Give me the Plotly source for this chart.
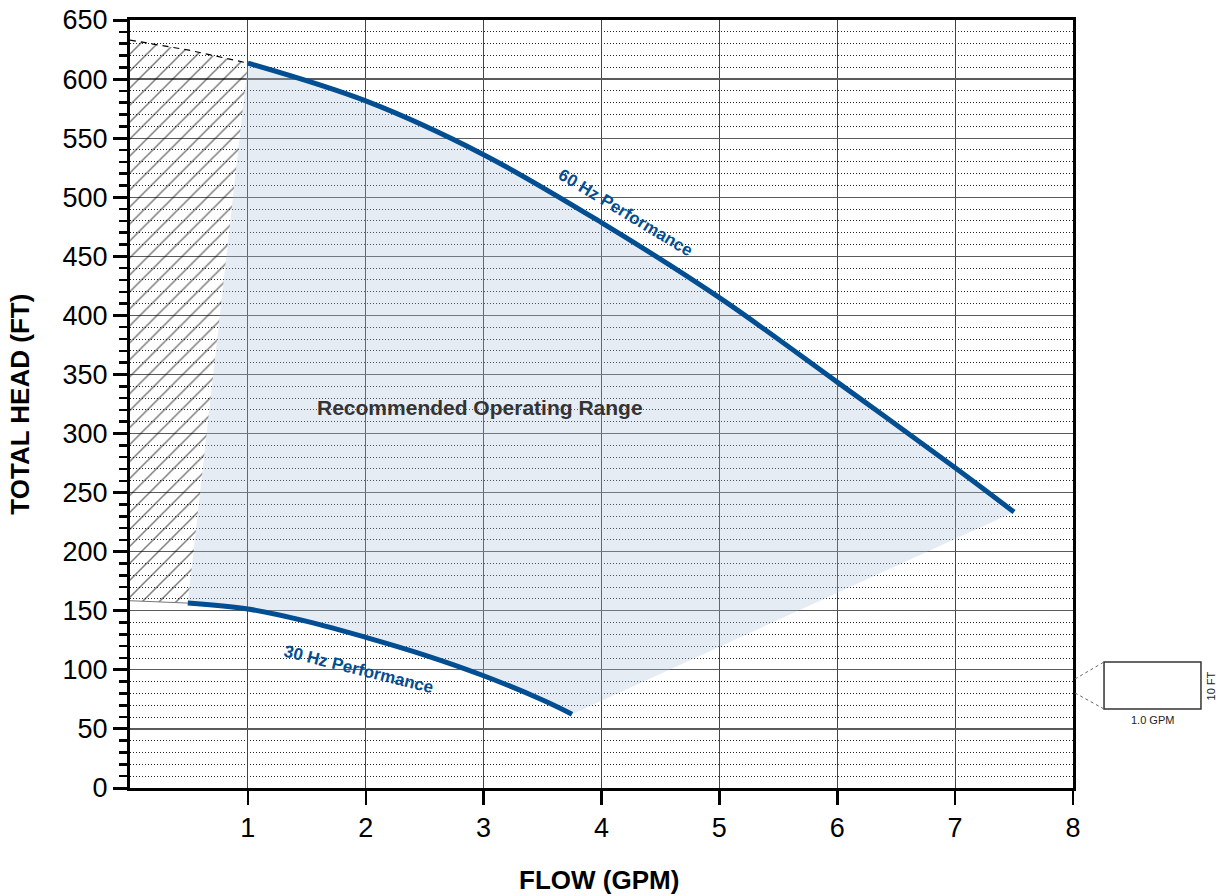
import plotly.graph_objects as go

# ---- data ----
flow_60 = [1, 2, 3, 4, 5, 6, 7, 7.5]
head_60 = [613.5, 581.5, 536, 478.5, 415, 343.5, 271, 233.5]

flow_30 = [0.49, 1, 1.5, 2, 2.5, 3, 3.5, 3.75]
head_30 = [156.5, 151.5, 141, 127.5, 112.5, 95, 74.5, 62.5]

hatch_top_flow = [0, 0.5, 1]
hatch_top_head = [633, 624.5, 613.5]
hatch_bot_flow = [0, 0.49]
hatch_bot_head = [158.5, 156.5]

x_ticks = [1, 2, 3, 4, 5, 6, 7, 8]
y_ticks = list(range(0, 651, 50))

BLUE = "#024e92"
FONT = "Liberation Sans, Arial, Helvetica, sans-serif"

fig = go.Figure()

# recommended operating range (shaded)
fig.add_trace(go.Scatter(
    x=flow_60 + flow_30[::-1],
    y=head_60 + head_30[::-1],
    fill="toself", mode="lines", line=dict(width=0),
    fillcolor="rgba(170,192,220,0.30)", hoverinfo="skip", showlegend=False))

# hatched zone
fig.add_trace(go.Scatter(
    x=hatch_top_flow + hatch_bot_flow[::-1],
    y=hatch_top_head + hatch_bot_head[::-1],
    fill="toself", mode="lines", line=dict(width=0),
    fillcolor="rgba(0,0,0,0)",
    fillpattern=dict(shape="/", fgcolor="black", bgcolor="rgba(0,0,0,0)",
                     size=12, solidity=0.13),
    hoverinfo="skip", showlegend=False))

# hatch boundaries
fig.add_trace(go.Scatter(x=hatch_top_flow, y=hatch_top_head, mode="lines",
                         line=dict(color="black", width=1.2, dash="6px,5px"),
                         hoverinfo="skip", showlegend=False))
fig.add_trace(go.Scatter(x=hatch_bot_flow, y=hatch_bot_head, mode="lines",
                         line=dict(color="#777777", width=1),
                         hoverinfo="skip", showlegend=False))

# performance curves
fig.add_trace(go.Scatter(x=flow_60, y=head_60, mode="lines",
                         line=dict(color=BLUE, width=5, shape="spline"),
                         name="60 Hz Performance", showlegend=False))
fig.add_trace(go.Scatter(x=flow_30, y=head_30, mode="lines",
                         line=dict(color=BLUE, width=5, shape="spline"),
                         name="30 Hz Performance", showlegend=False))

fig.update_xaxes(
    range=[0, 8], tickvals=x_ticks, ticktext=[str(v) for v in x_ticks],
    showgrid=True, gridcolor="#444444", gridwidth=1,
    showline=True, linecolor="black", linewidth=3, mirror=True,
    ticks="outside", ticklen=14, tickwidth=2.5, tickcolor="black",
    tickfont=dict(family=FONT, size=27, color="black"),
    zeroline=False, fixedrange=True, automargin=False,
    ticklabeloverflow="allow")

fig.update_yaxes(
    range=[0, 650], tickvals=y_ticks, ticktext=[str(v) for v in y_ticks],
    showgrid=True, gridcolor="#5a5a5a", gridwidth=1.2,
    showline=True, linecolor="black", linewidth=3, mirror=True,
    ticks="outside", ticklen=14, tickwidth=3, tickcolor="black",
    tickfont=dict(family=FONT, size=27, color="black"),
    minor=dict(dtick=10, tick0=0, showgrid=True, griddash="1px,2px",
               gridcolor="#222222", gridwidth=1,
               ticks="outside", ticklen=8, tickwidth=2.5, tickcolor="black"),
    zeroline=False, fixedrange=True, automargin=False,
    ticklabeloverflow="allow")

annotations = [
    dict(text="<b>60 Hz Performance</b>", x=4.2, y=487, xref="x", yref="y",
         showarrow=False, textangle=31,
         font=dict(family=FONT, size=17, color=BLUE)),
    dict(text="<b>30 Hz Performance</b>", x=1.94, y=100, xref="x", yref="y",
         showarrow=False, textangle=14,
         font=dict(family=FONT, size=17, color=BLUE)),
    dict(text="<b>Recommended Operating Range</b>", x=2.97, y=322, xref="x", yref="y",
         showarrow=False, font=dict(family=FONT, size=21, color="#333333")),
    dict(text="<b>TOTAL HEAD (FT)</b>", x=-0.117, y=0.5, xref="paper", yref="paper",
         showarrow=False, textangle=-90, xanchor="center", yanchor="middle",
         font=dict(family=FONT, size=26, color="black")),
    dict(text="<b>FLOW (GPM)</b>", x=0.497, y=-0.12, xref="paper", yref="paper",
         showarrow=False, xanchor="center", yanchor="middle",
         font=dict(family=FONT, size=26, color="black")),
    dict(text="1.0 GPM", x=1.0843, y=0.0885, xref="paper", yref="paper",
         showarrow=False, xanchor="center", yanchor="middle",
         font=dict(family=FONT, size=11, color="#222222")),
    dict(text="10 FT", x=1.1468, y=0.1328, xref="paper", yref="paper",
         showarrow=False, textangle=-90, xanchor="center", yanchor="middle",
         font=dict(family=FONT, size=11, color="#222222")),
]

shapes = [
    dict(type="rect", xref="paper", yref="paper",
         x0=1.0329, x1=1.1357, y0=0.1029, y1=0.1641,
         line=dict(color="#333333", width=1.5), fillcolor="white"),
    dict(type="line", xref="paper", yref="paper",
         x0=1.0021, y0=0.1419, x1=1.0329, y1=0.1641,
         line=dict(color="#666666", width=1, dash="dot")),
    dict(type="line", xref="paper", yref="paper",
         x0=1.0021, y0=0.1237, x1=1.0329, y1=0.1029,
         line=dict(color="#666666", width=1, dash="dot")),
]

fig.update_layout(
    width=1218, height=896,
    margin=dict(l=130, r=145, t=20, b=108, autoexpand=False),
    plot_bgcolor="white", paper_bgcolor="white",
    font=dict(family=FONT),
    annotations=annotations, shapes=shapes,
    showlegend=False)

# remove the browser's default 8px body margin so the figure fills the window
fig.write_html("out.html",
               config={"displayModeBar": False, "staticPlot": True},
               post_script="document.body.style.margin='0';"
                           "document.body.style.overflow='hidden';")
